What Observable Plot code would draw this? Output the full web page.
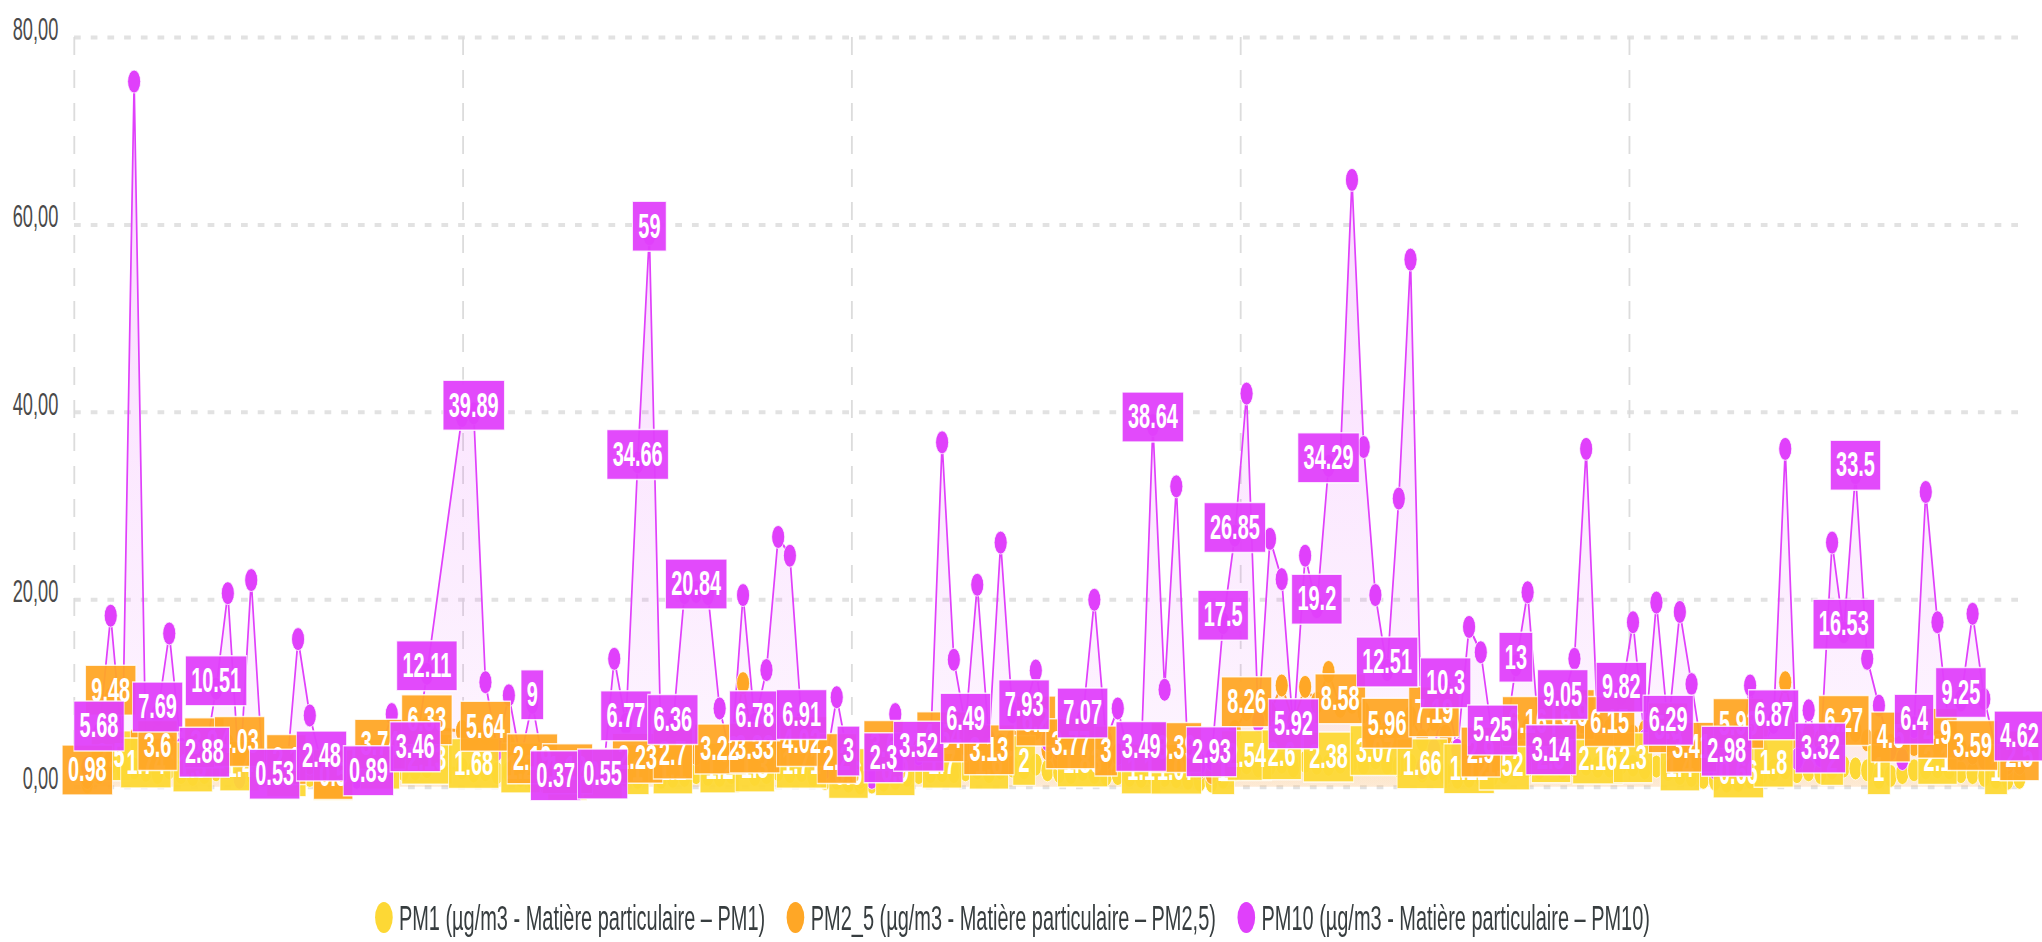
<!DOCTYPE html>
<html><head><meta charset="utf-8">
<script src="https://cdn.jsdelivr.net/npm/d3@7"></script>
<script src="https://cdn.jsdelivr.net/npm/@observablehq/plot@0.6"></script>
<style>
html,body{margin:0;padding:0;background:#fff;overflow:hidden;}
#wrap{transform-origin:0 0;}
.legend{display:flex;justify-content:center;align-items:center;height:116px;font-family:'Liberation Sans',Arial,sans-serif;font-size:35px;color:#373d3f;padding-right:30px;box-sizing:border-box;}
.item{display:flex;align-items:center;margin:0 19px;white-space:nowrap;}
.sw{width:31px;height:31px;border-radius:50%;margin-right:11px;flex:none;}
</style></head><body><div id="wrap"></div>
<script>
// ---------- data ----------
const slots = [0,1,2,3,4,5,6,7,8,9,10,11,12,13,14,15,16,17,18,19,20,21,22,23,24,25,26,27,28,29,
32,33,34,35,36,37,38,39,40,41,42,43,44,45,46,47,48,49,50,51,52,53,54,55,56,57,58,59,60,61,62,63,64,65,66,67,68,69,
70,71,72,73,74,75,76,77,78,79,80,81,82,83,84,85,86,87,88,89,90,91,92,93,94,95,96,97,98,99,100,101,102,103,104,105,
106,107,108,109,110,111,112,113,114,115,116,117,118,119,120,121,122,123,124,125,126,127,128,129,130,131,132,133,134,
135,136,137,138,139,140,141,142,143,144,145,146,147,148,149,150,151,152,153,154,155,156,157,158,159,160,161,162,163,164,165];

const pm10 = [
2.1,5.68,18.3,4.2,75.3,3.5,7.69,16.4,4.1,3.2,
2.88,10.51,20.7,1.0,22.1,1.5,0.53,1.2,15.8,7.65,
2.48,2.0,1.5,1.0,0.89,3.5,7.8,3.0,3.46,12.11,
39.6,39.89,11.2,4.0,9.8,3.0,9,2.0,
0.37,1.0,1.2,0.8,0.55,13.7,6.77,34.66,59,4.0,
6.36,20.7,20.84,20.6,8.4,3.0,20.5,6.78,12.5,26.7,
24.7,6.91,3.0,2.0,9.6,3,1.5,1.0,2.3,7.8,
3.0,3.52,4.0,36.8,13.6,6.49,21.6,5.0,26.1,8.0,
7.93,12.45,5.0,4.0,3.0,7.07,20.0,5.0,8.4,3.0,
3.49,38.64,10.4,32.1,3.0,2.5,2.93,17.5,26.85,42.0,
7.0,26.5,22.2,5.92,24.7,19.2,34.29,35.0,64.8,36.3,
20.5,12.51,30.8,56.3,2.0,4.0,10.3,4.0,17.1,14.4,
5.25,4.0,13,20.8,5.0,3.14,9.05,13.7,36.1,6.0,
5.0,9.82,17.6,5.0,19.7,6.29,18.7,11.0,3.0,2.0,
2.98,3.0,10.85,4.0,6.87,36.1,3.0,8.2,3.32,26.1,
16.53,33.5,13.7,8.7,4.0,3.0,6.4,31.5,17.6,6.0,
9.25,18.5,9.4,4.0,3.0,4.62];

const pm25 = [
0.98,3.0,9.48,4.0,5.0,3.0,3.6,4.5,3.5,3.0,
3.9,3.5,4.5,4.03,4.2,3.0,2.5,2.1,3.0,2.5,
1.0,0.5,1.0,2.0,3.0,3.74,4.5,4.0,4.5,6.33,
6.0,5.5,5.64,4.0,4.5,3.5,2.19,1.5,
1.0,1.12,1.3,1.0,1.5,3.0,3.0,2.23,3.5,2.5,
2.7,3.0,3.5,3.0,3.22,4.0,11.1,3.33,4.0,4.5,
4.0,4.02,3.0,2.5,2.2,1.5,1.0,1.5,3.6,3.0,
3.5,4.0,4.0,4.54,4.0,4.5,5.0,3.13,4.5,5.0,
5.3,6.2,4.0,3.0,3.77,3.5,3.0,3.0,3.5,3.0,
2.5,3.5,3.0,3.39,2.5,2.0,1.5,4.0,6.0,8.26,
7.0,8.0,10.85,7.0,10.7,9.0,12.3,8.58,9.0,8.0,
6.5,5.96,6.5,7.5,5.0,7.19,5.5,4.0,3.0,2.9,
2.0,3.5,5.0,6.16,5.0,2.5,3.5,6.9,6.0,6.5,
6.15,6.0,5.5,6.0,6.5,5.5,4.5,3.41,3.0,2.5,
3.0,5.93,6.5,6.0,7.0,11.2,5.0,5.5,5.0,6.0,
6.27,6.0,5.0,5.0,4.5,4.0,4.5,5.0,4.9,4.5,
4.0,3.59,3.0,2.5,2.5,2.5];

const pm1 = [
0.5,1.5,2.5,1.8,2.0,1.74,1.5,2.0,1.5,1.3,
1.5,1.8,2.0,1.4,1.6,1.2,0.6,0.8,1.0,1.2,
0.3,0.4,0.6,1.0,1.5,1.6,2.0,1.8,1.9,2.13,
2.0,1.68,1.8,1.5,1.6,1.2,0.9,0.6,
0.3,0.4,0.5,0.5,0.6,1.0,1.2,1.0,1.5,1.0,
1.1,1.2,1.5,1.3,1.2,1.5,2.0,1.3,1.5,1.8,
1.6,1.71,1.2,0.9,0.9,0.6,0.4,0.5,0.7,0.9,
1.2,1.5,1.6,1.7,1.6,1.8,2.0,1.6,2.0,2.2,
2.0,2.4,1.8,1.6,1.5,1.83,1.5,1.3,1.4,1.2,
1.1,1.3,1.2,1.07,0.9,0.7,0.6,1.0,1.8,2.54,
2.2,2.4,2.6,2.2,2.7,2.5,2.38,2.6,2.8,2.5,
3.07,2.5,2.2,2.4,1.66,1.8,1.4,1.0,1.12,1.2,
1.3,1.52,2.0,2.2,2.0,2.3,2.0,2.2,2.4,2.16,
2.2,2.5,2.3,2.0,2.2,1.8,1.4,1.2,1.0,0.8,
0.6,0.66,1.0,1.5,1.8,2.0,1.6,1.8,1.5,2.0,
2.2,2.0,1.8,1.0,1.2,1.5,1.8,2.0,2.1,2.0,
1.6,1.5,1.2,1.0,0.9,1.0];

// slots whose data label is visible
const pm10Labelled = [1,6,10,11,16,20,24,28,29,33,38,40,44,46,47,48,50,52,57,61,65,68,71,75,80,85,90,91,96,97,98,103,105,106,111,116,120,122,125,126,131,135,140,144,148,150,151,156,160,165];
const pm25Labelled = [0,2,6,10,13,17,21,25,29,34,38,41,47,50,54,57,61,64,68,73,77,81,84,87,93,99,107,111,115,119,123,127,130,135,137,141,150,154,158,161,165];
const pm1Labelled = [2,5,9,13,17,21,25,29,33,37,41,44,47,50,54,57,61,65,69,73,77,80,85,90,93,97,99,102,106,110,114,118,121,125,129,132,136,141,144,149,153,158,163];

const seriesNames = ["PM1 (µg/m3 - Matière particulaire – PM1)","PM2_5 (µg/m3 - Matière particulaire – PM2,5)","PM10 (µg/m3 - Matière particulaire – PM10)"];
const seriesColors = ["#FDD835","#FFA726","#E040FB"];
const yTicks = [0,20,40,60,80];
const xDomain = [-1.11, 164.9];

// ---------- drawing ----------
const S = 0.57;                 // horizontal squeeze of the reference
const FW = 2042 / S;
const LABEL_FONT = 35;
const canvas = document.createElement("canvas").getContext("2d");
canvas.font = `bold ${LABEL_FONT}px 'Liberation Sans', Arial, sans-serif`;

const series = [
  {values: pm1, labelled: pm1Labelled, color: seriesColors[0], grad: "gPM1"},
  {values: pm25, labelled: pm25Labelled, color: seriesColors[1], grad: "gPM25"},
  {values: pm10, labelled: pm10Labelled, color: seriesColors[2], grad: "gPM10"}
];
const pts = s => slots.map((t, k) => ({t, v: s.values[k]}));
const labs = s => s.labelled.map(t => {
  const v = s.values[slots.indexOf(t)];
  const str = String(v);
  return {t, v, s: str, w: canvas.measureText(str).width};
});
const box = {draw(ctx, size) {
  const r = Math.sqrt(size / Math.PI), h = 25;
  ctx.moveTo(-r, -h); ctx.lineTo(r, -h); ctx.lineTo(r, h); ctx.lineTo(-r, h); ctx.closePath();
}};
const xGrid = d3.range(5).map(k => xDomain[0] + k * (xDomain[1] - xDomain[0]) / 5);
const fmt = d => d.toFixed(2).replace(".", ",");

const marks = [
  Plot.ruleY(yTicks, {stroke: "#e2e2e2", strokeWidth: 4, strokeDasharray: "11.8,17.5"}),
  Plot.ruleX(xGrid, {stroke: "#dcdcdc", strokeWidth: 3.2, strokeDasharray: "18,15"}),
  Plot.text(yTicks, {y: d => d, text: fmt, frameAnchor: "left", textAnchor: "end", dx: -28, dy: -8, fill: "#4a4a4a", fontSize: 32})
];
for (const s of series) {
  marks.push(Plot.areaY(pts(s), {x: "t", y: "v", fill: `url(#${s.grad})`}));
  marks.push(Plot.lineY(pts(s), {x: "t", y: "v", stroke: s.color, strokeWidth: 3}));
}
for (const s of series) {
  marks.push(Plot.dot(pts(s), {x: "t", y: "v", r: 11.5, fill: s.color, stroke: "#fff", strokeWidth: 1}));
}
for (const s of series) {
  const L = labs(s);
  marks.push(Plot.dot(L, {x: "t", y: "v", r: d => d.w / 2 + 10, symbol: box, fill: s.color, fillOpacity: 0.95,
    stroke: "#fff", strokeWidth: 1.5, strokeOpacity: 0.8, dy: -8, sort: null}));
  marks.push(Plot.text(L, {x: "t", y: "v", text: "s", fill: "white", fontSize: LABEL_FONT, fontWeight: "bold", dy: -8}));
}

const chart = Plot.plot({
  width: FW, height: 860,
  marginLeft: 74 / S, marginRight: FW - 2018 / S, marginTop: 37, marginBottom: 73.3,
  x: {domain: xDomain, axis: null},
  y: {domain: [0, 80], axis: null},
  r: {type: "identity"},
  style: {fontFamily: "'Liberation Sans', Arial, sans-serif", fontSize: "32px", background: "white", overflow: "visible"},
  marks
});
const ns = "http://www.w3.org/2000/svg";
const defs = document.createElementNS(ns, "defs");
const gradDefs = [["gPM1", seriesColors[0], 0.28, 0.14], ["gPM25", seriesColors[1], 0.18, 0.08], ["gPM10", seriesColors[2], 0.2, 0.05]];
for (const [id, c, o1, o2] of gradDefs) {
  const g = document.createElementNS(ns, "linearGradient");
  g.setAttribute("id", id); g.setAttribute("x1", 0); g.setAttribute("y1", 0); g.setAttribute("x2", 0); g.setAttribute("y2", 1);
  for (const [off, op] of [[0, o1], [1, o2]]) {
    const st = document.createElementNS(ns, "stop");
    st.setAttribute("offset", off); st.setAttribute("stop-color", c); st.setAttribute("stop-opacity", op);
    g.appendChild(st);
  }
  defs.appendChild(g);
}
chart.insertBefore(defs, chart.firstChild);

const wrap = document.getElementById("wrap");
wrap.style.width = FW + "px";
wrap.style.transform = `scaleX(${S})`;
wrap.appendChild(chart);
const legend = document.createElement("div");
legend.className = "legend";
seriesNames.forEach((n, i) => {
  const it = document.createElement("div"); it.className = "item";
  const sw = document.createElement("span"); sw.className = "sw"; sw.style.background = seriesColors[i];
  const tx = document.createElement("span"); tx.textContent = n;
  it.appendChild(sw); it.appendChild(tx); legend.appendChild(it);
});
wrap.appendChild(legend);
</script></body></html>
